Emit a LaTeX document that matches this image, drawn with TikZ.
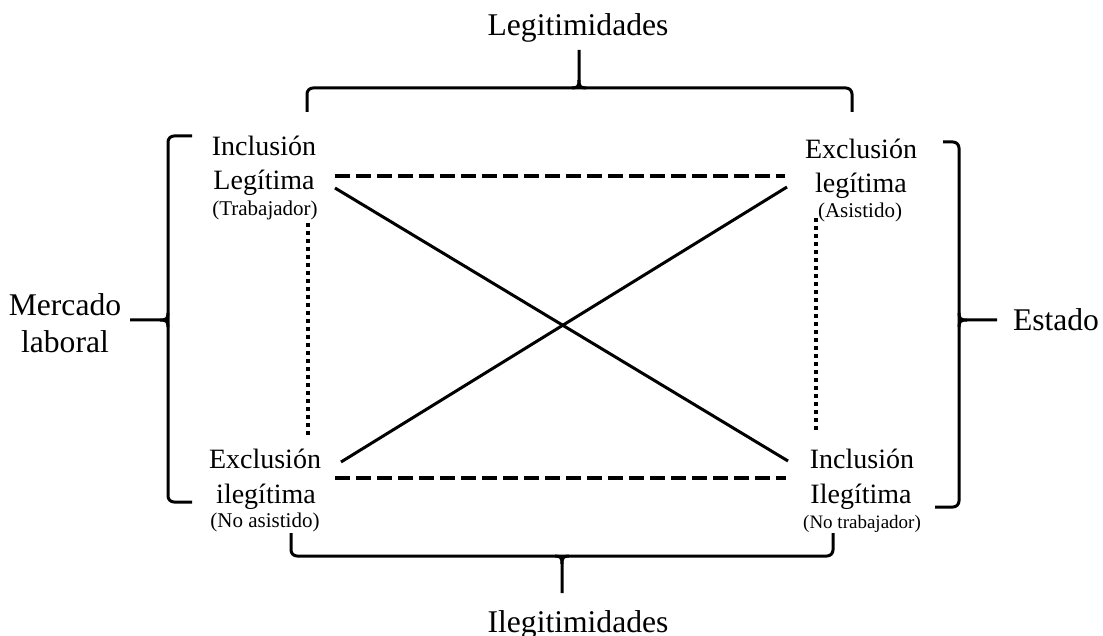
\documentclass[tikz,border=0pt]{standalone}
\usepackage{fontspec}
\setmainfont{Liberation Serif}
\usepackage{tikz}

\tikzset{
  side/.style={font=\fontsize{15.8}{18}\selectfont, inner sep=0pt, anchor=base},
  word/.style={font=\fontsize{14}{16}\selectfont, inner sep=0pt, anchor=base},
  role/.style={font=\fontsize{10.5}{12}\selectfont, inner sep=0pt, anchor=base},
  brace/.style={line width=1.5pt, rounded corners=3pt},
  dashln/.style={line width=2.2pt, dash pattern=on 7.5pt off 3pt},
  dotln/.style={line width=2pt, dash pattern=on 2pt off 2pt},
  diag/.style={line width=1.5pt}
}

\begin{document}
\begin{tikzpicture}[x=0.5pt, y=-0.5pt]
		\useasboundingbox (0,0) rectangle (1103,636);
		
		% outer labels
		\node[side] (legit) at (578,36) {Legitimidades};
		\node[side] (ilegit) at (578,632) {Ilegitimidades};
		\node[side] (merA) at (65,315) {Mercado};
		\node[side] (merB) at (65,352) {laboral};
		\node[side] (estado) at (1056,330) {Estado};
		
		% top left corner
		\node[word] (tlA) at (264,156) {Inclusión};
		\node[word] (tlB) at (264,190) {Legítima};
		\node[role] (tlC) at (265,216) {(Trabajador)};
		% top right corner
		\node[word] (trA) at (861,159) {Exclusión};
		\node[word] (trB) at (861,193) {legítima};
		\node[role] (trC) at (860,218) {(Asistido)};
		% bottom left corner
		\node[word] (blA) at (265,468) {Exclusión};
		\node[word] (blB) at (266,503) {ilegítima};
		\node[role] (blC) at (265,527) {(No asistido)};
		% bottom right corner
		\node[word] (brA) at (862,468) {Inclusión};
		\node[word] (brB) at (861,503) {Ilegítima};
		\node[role, font=\fontsize{9.5}{11}\selectfont] (brC) at (862,528) {(No trabajador)};
		
		% ends of the square
		\coordinate (dTL) at (335,176);
		\coordinate (dTR) at (785,176);
		\coordinate (dBL) at (335,478);
		\coordinate (dBR) at (786,478);
		\coordinate (xTL) at (335,188);
		\coordinate (xBR) at (788,461);
		\coordinate (xBL) at (341,462);
		\coordinate (xTR) at (787,187);
		\coordinate (pTL) at (308,223);
		\coordinate (pBL) at (308,436);
		\coordinate (pTR) at (816,218);
		\coordinate (pBR) at (816,430);
		
		% square
		\draw[dashln] (dTL) -- (dTR);
		\draw[dashln] (dBL) -- (dBR);
		\draw[diag] (xTL) -- (xBR);
		\draw[diag] (xBL) -- (xTR);
		\draw[dotln] (pTL) -- (pBL);
		\draw[dotln] (pTR) -- (pBR);
		
		% top brace
		\draw[brace] (307,112) -- (307,88) -- (852,88) -- (852,112);
		\draw[line width=1.5pt] (572,88) .. controls (578,88) and (579,86) .. (579,80) -- (579,50);
		\draw[line width=1.5pt] (586,88) .. controls (580,88) and (579,86) .. (579,80);
		
		% bottom brace
		\draw[brace] (291,533) -- (291,556) -- (833,556) -- (833,533);
		\draw[line width=1.5pt] (555,556) .. controls (561,556) and (562,558) .. (562,564) -- (562,593);
		\draw[line width=1.5pt] (569,556) .. controls (563,556) and (562,558) .. (562,564);
		
		% left brace
		\draw[brace] (192,136) -- (168,136) -- (168,502) -- (192,502);
		\draw[line width=1.5pt] (168,313) .. controls (168,319) and (166,320) .. (160,320) -- (130,320);
		\draw[line width=1.5pt] (168,327) .. controls (168,321) and (166,320) .. (160,320);
		
		% right brace
		\draw[brace] (943,142) -- (959,142) -- (959,507) -- (935,507);
		\draw[line width=1.5pt] (959,313) .. controls (959,319) and (961,320) .. (967,320) -- (997,320);
		\draw[line width=1.5pt] (959,327) .. controls (959,321) and (961,320) .. (967,320);
	\end{tikzpicture}
\end{document}
